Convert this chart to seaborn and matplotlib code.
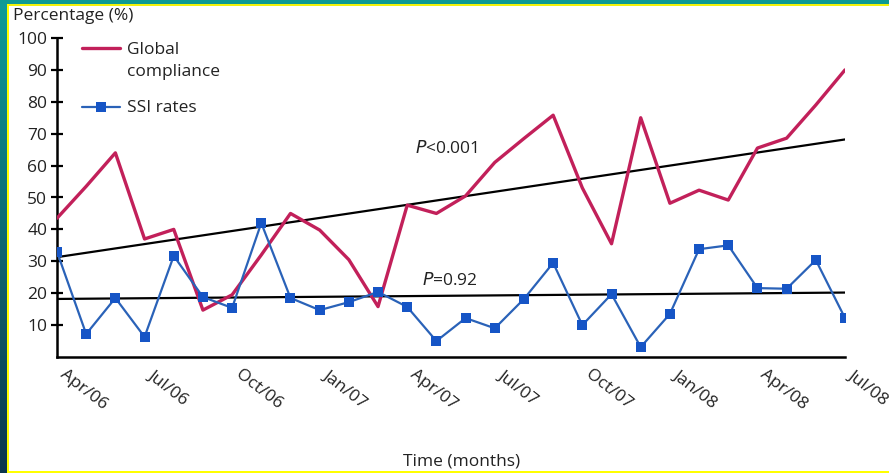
import numpy as np
import pandas as pd
import matplotlib
matplotlib.use("Agg")
import matplotlib.pyplot as plt
from matplotlib.patches import Rectangle
from matplotlib.lines import Line2D
import seaborn as sns

# Monthly series, April 2006 to July 2008
months = list(range(28))
compliance = [43.5, 53.5, 64, 37, 40, 14.7, 19.5, 32, 45, 39.8, 30.5, 15.8,
              47.6, 45, 50.5, 61, 68.5, 75.8, 53, 35.5, 75, 48.2, 52.3, 49.2,
              65.5, 68.6, 79, 90]
ssi_rates = [33, 7.2, 18.5, 6.3, 31.7, 18.8, 15.4, 42, 18.5, 14.7, 17.2, 20.4,
             15.7, 5, 12.2, 9, 18.2, 29.5, 10, 19.7, 3.1, 13.5, 33.8, 35,
             21.6, 21.4, 30.4, 12.2]

# Fitted trend lines (value at first and last month)
trend_x = [0, 27]
trend_compliance = [31.3, 68.2]
trend_ssi = [18.2, 20.2]

tick_months = [0, 3, 6, 9, 12, 15, 18, 21, 24, 27]
tick_labels = ["Apr/06", "Jul/06", "Oct/06", "Jan/07", "Apr/07", "Jul/07",
               "Oct/07", "Jan/08", "Apr/08", "Jul/08"]
y_ticks = [10, 20, 30, 40, 50, 60, 70, 80, 90, 100]

RED = "#c2205a"
BLUE = "#2a62b8"
BLUE_MK = "#1655c6"
FS = 12.5

sns.set_theme(style="white")
plt.rcParams["font.family"] = ["Open Sans", "DejaVu Sans"]
plt.rcParams["text.color"] = "#222222"

W, H = 889, 473
fig = plt.figure(figsize=(W / 100, H / 100), dpi=100)
fig.patch.set_facecolor("white")

ax_l, ax_r, ax_b, ax_t = 57, 845, 357, 38
ax = fig.add_axes([ax_l / W, 1 - ax_b / H, (ax_r - ax_l) / W, (ax_b - ax_t) / H])
ax.set_facecolor("white")

df = pd.DataFrame({"month": months, "compliance": compliance, "ssi": ssi_rates})
tr = pd.DataFrame({"month": trend_x, "comp": trend_compliance, "ssi": trend_ssi})

sns.lineplot(data=tr, x="month", y="comp", ax=ax, color="black", linewidth=1.6, zorder=2)
sns.lineplot(data=tr, x="month", y="ssi", ax=ax, color="black", linewidth=1.6, zorder=2)
sns.lineplot(data=df, x="month", y="compliance", ax=ax, color=RED, linewidth=2.4, zorder=3)
sns.lineplot(data=df, x="month", y="ssi", ax=ax, color=BLUE, linewidth=1.6,
             marker="s", markersize=6.5, markerfacecolor=BLUE_MK,
             markeredgecolor=BLUE_MK, markeredgewidth=0, zorder=4)

ax.set_xlim(0, 27)
ax.set_ylim(0, 100)
ax.set_xlabel("")
ax.set_ylabel("")
for s in ["top", "right"]:
    ax.spines[s].set_visible(False)
for s in ["left", "bottom"]:
    ax.spines[s].set_color("black")
    ax.spines[s].set_linewidth(1.8)

ax.set_yticks(y_ticks)
ax.set_yticklabels([str(v) for v in y_ticks])
ax.tick_params(axis="y", direction="inout", length=8, width=1.6, color="black",
               pad=3, labelsize=FS, labelcolor="#222222", left=True)
ax.set_xticks(tick_months)
ax.set_xticklabels(tick_labels, rotation=-38, ha="left", va="top")
ax.tick_params(axis="x", length=0, pad=7, labelsize=FS, labelcolor="#222222", bottom=True)
ax.grid(False)

# P-values beside the trend lines
ax.text(13.36, 65.5, "$P$<0.001", ha="center", va="center", fontsize=FS,
        color="#222222")
ax.text(13.46, 24.1, "$P$=0.92", ha="center", va="center", fontsize=FS,
        color="#222222")

# Legend
ax.add_line(Line2D([0.032, 0.080], [0.969, 0.969], transform=ax.transAxes,
                   color=RED, linewidth=2.4))
ax.text(0.089, 0.962, "Global", transform=ax.transAxes, ha="left", va="center", fontsize=FS)
ax.text(0.089, 0.893, "compliance", transform=ax.transAxes, ha="left", va="center", fontsize=FS)
ax.add_line(Line2D([0.032, 0.080], [0.784, 0.784], transform=ax.transAxes,
                   color=BLUE, linewidth=1.6))
ax.add_line(Line2D([0.056], [0.784], transform=ax.transAxes, marker="s",
                   markersize=6.5, markerfacecolor=BLUE_MK, markeredgewidth=0,
                   linestyle="none"))
ax.text(0.089, 0.781, "SSI rates", transform=ax.transAxes, ha="left", va="center", fontsize=FS)

fig.text(13 / W, 1 - 16 / H, "Percentage (%)", ha="left", va="center", fontsize=FS)
fig.text(462 / W, 1 - 461 / H, "Time (months)", ha="center", va="center", fontsize=FS)

# Slide frame: teal band on top, gradient strip on the left, yellow rules
fig.add_artist(Rectangle((0, 1 - 4 / H), 1, 4 / H, transform=fig.transFigure,
                         facecolor="#0e9a94", edgecolor="none", zorder=10))
fig.add_artist(Rectangle((0, 1 - 6 / H), 1, 2 / H, transform=fig.transFigure,
                         facecolor="#f2f20a", edgecolor="none", zorder=10))
fig.add_artist(Rectangle((0, 0), 1, 2.5 / H, transform=fig.transFigure,
                         facecolor="#ffff00", edgecolor="none", zorder=10))
fig.add_artist(Rectangle((7 / W, 0), 2 / W, 1 - 4 / H, transform=fig.transFigure,
                         facecolor="#ffff00", edgecolor="none", zorder=10))
strip = fig.add_axes([0, 0, 7 / W, 1 - 4 / H], zorder=11)
grad = np.linspace(0, 1, 256).reshape(-1, 1)
c_top = np.array([0x0f, 0x9b, 0x98]) / 255
c_bot = np.array([0x0b, 0x36, 0x4c]) / 255
img = c_top[None, None, :] * (1 - grad[:, :, None]) + c_bot[None, None, :] * grad[:, :, None]
strip.imshow(img, aspect="auto", extent=[0, 1, 0, 1])
strip.set_axis_off()

fig.savefig("out.png", dpi=100, facecolor="white")
